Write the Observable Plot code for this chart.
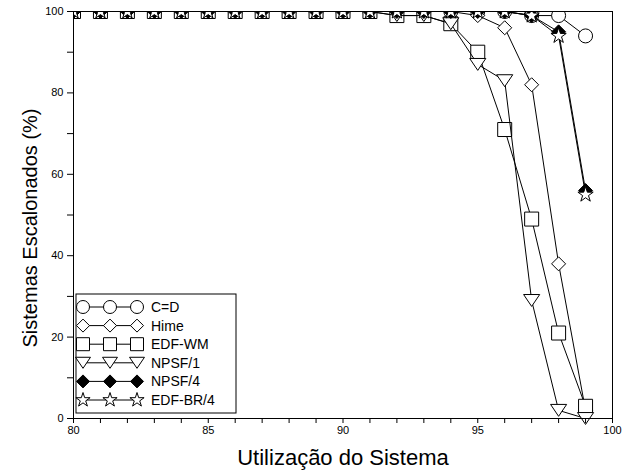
<!DOCTYPE html>
<html>
<head>
<meta charset="utf-8">
<script src="https://cdn.jsdelivr.net/npm/d3@7"></script>
<script src="https://cdn.jsdelivr.net/npm/@observablehq/plot@0.6"></script>
<style>
  body { margin: 0; background: #fff; }
  #chart { width: 622px; height: 474px; }
  #chart svg { font-family: "Liberation Sans", Arial, sans-serif; }
</style>
</head>
<body>
<div id="chart"></div>
<script>
// Utilização do sistema (%) em que cada conjunto foi avaliado
const utilizacao = [80, 81, 82, 83, 84, 85, 86, 87, 88, 89, 90, 91, 92, 93, 94, 95, 96, 97, 98, 99];

// Percentual de sistemas escalonados por algoritmo
const cd     = [100, 100, 100, 100, 100, 100, 100, 100, 100, 100, 100, 100, 100, 100, 100, 100, 100, 99, 99, 94];
const hime   = [100, 100, 100, 100, 100, 100, 100, 100, 100, 100, 100, 100, 100, 100, 100, 99, 96, 82, 38, 2];
const edfWm  = [100, 100, 100, 100, 100, 100, 100, 100, 100, 100, 100, 100, 99, 99, 97, 90, 71, 49, 21, 3];
const npsf1  = [100, 100, 100, 100, 100, 100, 100, 100, 100, 100, 100, 100, 99, 99, 97, 87, 83, 29, 2, 0];
const npsf4  = [100, 100, 100, 100, 100, 100, 100, 100, 100, 100, 100, 100, 100, 100, 100, 100, 100, 99, 95, 56];
const edfBr4 = [100, 100, 100, 100, 100, 100, 100, 100, 100, 100, 100, 100, 100, 100, 100, 100, 100, 99, 94, 55];

const seriesNames = ["C=D", "Hime", "EDF-WM", "NPSF/1", "NPSF/4", "EDF-BR/4"];

// Eixos
const xTickLabels = [80, 85, 90, 95, 100];
const xMinorTicks = [81, 82, 83, 84, 86, 87, 88, 89, 91, 92, 93, 94, 96, 97, 98, 99];
const yTickLabels = [0, 20, 40, 60, 80, 100];
const yMinorTicks = [10, 30, 50, 70, 90];
const xTitle = "Utilização do Sistema";
const yTitle = "Sistemas Escalonados (%)";

// Marcadores desenhados como símbolos d3 (tamanho = área, raio equivalente r)
const rad = (size) => Math.sqrt(size / Math.PI);
const symSquare = { draw(ctx, size) { const r = rad(size); ctx.rect(-r, -r, 2 * r, 2 * r); } };
const symDiamond = { draw(ctx, size) {
  const r = rad(size);
  ctx.moveTo(0, -r); ctx.lineTo(r, 0); ctx.lineTo(0, r); ctx.lineTo(-r, 0); ctx.closePath();
} };
const symTriDown = { draw(ctx, size) {
  const r = rad(size);
  ctx.moveTo(-1.15 * r, -0.85 * r); ctx.lineTo(1.15 * r, -0.85 * r); ctx.lineTo(0, 0.85 * r); ctx.closePath();
} };
const symStar = { draw(ctx, size) {
  const R = rad(size) * 1.15, ri = R * 0.382;
  for (let k = 0; k < 10; ++k) {
    const a = -Math.PI / 2 + k * Math.PI / 5, q = k % 2 ? ri : R;
    const px = q * Math.cos(a), py = q * Math.sin(a);
    if (k === 0) ctx.moveTo(px, py); else ctx.lineTo(px, py);
  }
  ctx.closePath();
} };

const series = [
  { name: seriesNames[0], values: cd,     symbol: d3.symbolCircle, fill: "white" },
  { name: seriesNames[1], values: hime,   symbol: symDiamond,      fill: "white" },
  { name: seriesNames[2], values: edfWm,  symbol: symSquare,       fill: "white" },
  { name: seriesNames[3], values: npsf1,  symbol: symTriDown,      fill: "white" },
  { name: seriesNames[4], values: npsf4,  symbol: symDiamond,      fill: "black" },
  { name: seriesNames[5], values: edfBr4, symbol: symStar,         fill: "white" }
];

const marks = [];
for (const s of series) {
  const rows = utilizacao.map((u, i) => ({ u, v: s.values[i] }));
  marks.push(Plot.lineY(rows, { x: "u", y: "v", stroke: "#000", strokeWidth: 1, className: "serie-linha" }));
  marks.push(Plot.dot(rows, { x: "u", y: "v", r: 7, symbol: s.symbol, fill: s.fill, stroke: "#000", strokeWidth: 1, className: "serie-ponto" }));
}

const plot = Plot.plot({
  width: 622,
  height: 474,
  marginLeft: 73,
  marginRight: 10,
  marginTop: 11,
  marginBottom: 56,
  style: { fontSize: "11px", fontFamily: "Liberation Sans, Arial, sans-serif", color: "black", background: "white" },
  x: { domain: [80, 100] },
  y: { domain: [0, 100] },
  marks: [
    ...marks,
    Plot.axisX({ ticks: xTickLabels, tickSize: 5, tickPadding: 3, label: null }),
    Plot.axisX({ ticks: xMinorTicks, tickSize: 5, tickFormat: () => "", label: null }),
    Plot.axisY({ ticks: yTickLabels, tickSize: 6, tickPadding: 4, label: null }),
    Plot.axisY({ ticks: yMinorTicks, tickSize: 6, tickFormat: () => "", label: null }),
    Plot.frame({ stroke: "black", strokeWidth: 1 }),
    Plot.text([xTitle], { frameAnchor: "bottom", dy: 46, fontSize: 22, fill: "black", textAnchor: "middle" }),
    Plot.text([yTitle], { frameAnchor: "left", dx: -43, dy: 13, rotate: -90, fontSize: 20, fill: "black", textAnchor: "middle" })
  ]
});

// Recorte das séries ao quadro do gráfico (com folga embaixo)
const svg = d3.select(plot);
const defs = svg.append("defs");
defs.append("clipPath").attr("id", "area-serie")
  .append("rect").attr("x", 73).attr("y", 11).attr("width", 539).attr("height", 422);
svg.selectAll(".serie-linha, .serie-ponto").attr("clip-path", "url(#area-serie)");

// Legenda no canto inferior esquerdo
const lg = svg.append("g").attr("transform", "translate(76,294)");
lg.append("rect").attr("width", 160).attr("height", 119).attr("fill", "white").attr("stroke", "black");
series.forEach((s, i) => {
  const y = 13 + i * 18.6;
  lg.append("path").attr("d", `M7,${y}H61`).attr("fill", "none").attr("stroke", "black").attr("stroke-width", 1);
  [7, 34, 61].forEach((x) => {
    lg.append("path")
      .attr("d", d3.symbol(s.symbol, Math.PI * 6.5 * 6.5)())
      .attr("transform", `translate(${x},${y})`)
      .attr("fill", s.fill).attr("stroke", "black");
  });
  lg.append("text").attr("x", 75).attr("y", y).attr("dy", "0.36em")
    .attr("text-anchor", "start")
    .attr("font-size", 14).attr("fill", "black").text(s.name);
});

document.getElementById("chart").append(plot);
</script>
</body>
</html>
